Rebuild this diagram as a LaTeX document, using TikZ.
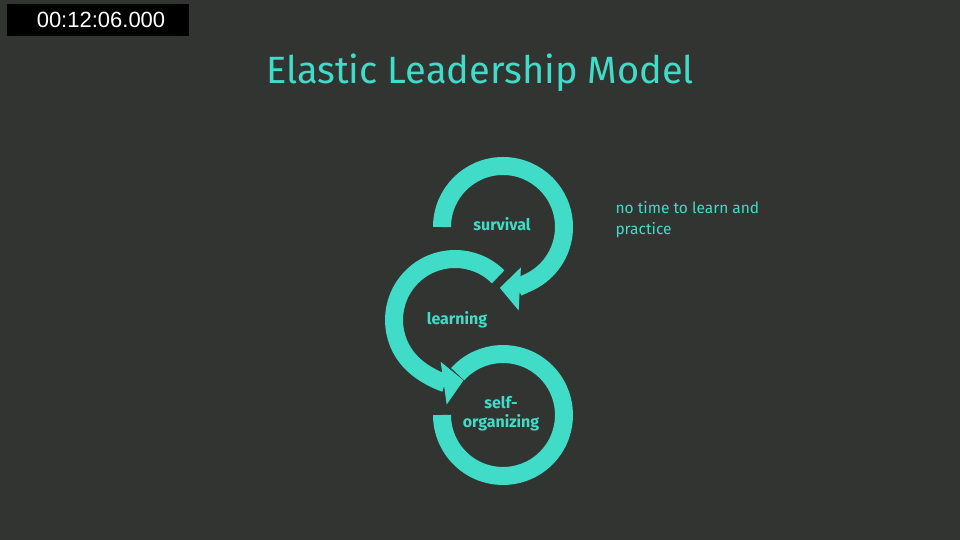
\documentclass[tikz,border=0pt]{standalone}
\usepackage{fontspec}
\setmainfont{Fira Sans}
\newfontfamily\stamp{Liberation Sans}
\usetikzlibrary{arrows.meta}
\definecolor{bg}{HTML}{323432}
\definecolor{teal}{HTML}{40DCC8}
\begin{document}
\begin{tikzpicture}[x=1pt,y=1pt,
  ring/.style={draw=teal,line width=18pt},
  arr/.style={ring,-{Triangle[width=42pt,length=20pt]}},
  lbl/.style={text=teal,font=\bfseries\fontsize{16}{19}\selectfont,align=center}]
\fill[bg] (0,0) rectangle (960,540);
\useasboundingbox (0,0) rectangle (960,540);
\fill[black] (7,504) rectangle (189,536);
\node[text=white,font=\stamp\fontsize{22}{24}\selectfont] (ts) at (101,520) {00:12:06.000};
\node[text=teal,font=\fontsize{38}{40}\selectfont] (title) at (480,467) {Elastic Leadership Model};
\coordinate (c1) at (503,313);
\coordinate (c2) at (455,220);
\coordinate (c3) at (503,125);
\draw[arr] ([shift={(180:61)}]c1) arc[start angle=180,end angle=-93,radius=61];
\draw[arr] ([shift={(45:61)}]c2) arc[start angle=45,end angle=278,radius=61];
\draw[ring] ([shift={(138:61)}]c3) arc[start angle=138,end angle=-180,radius=61];
\node[lbl] (s) at (502,316) {survival};
\node[lbl] (l) at (457,220) {learning};
\node[lbl] (o) at (501,126) {self-\\organizing};
\node[text=teal,font=\fontsize{15.5}{21}\selectfont,align=left,anchor=north west] (d) at (612,342) {no time to learn and\\practice};
\end{tikzpicture}
\end{document}
